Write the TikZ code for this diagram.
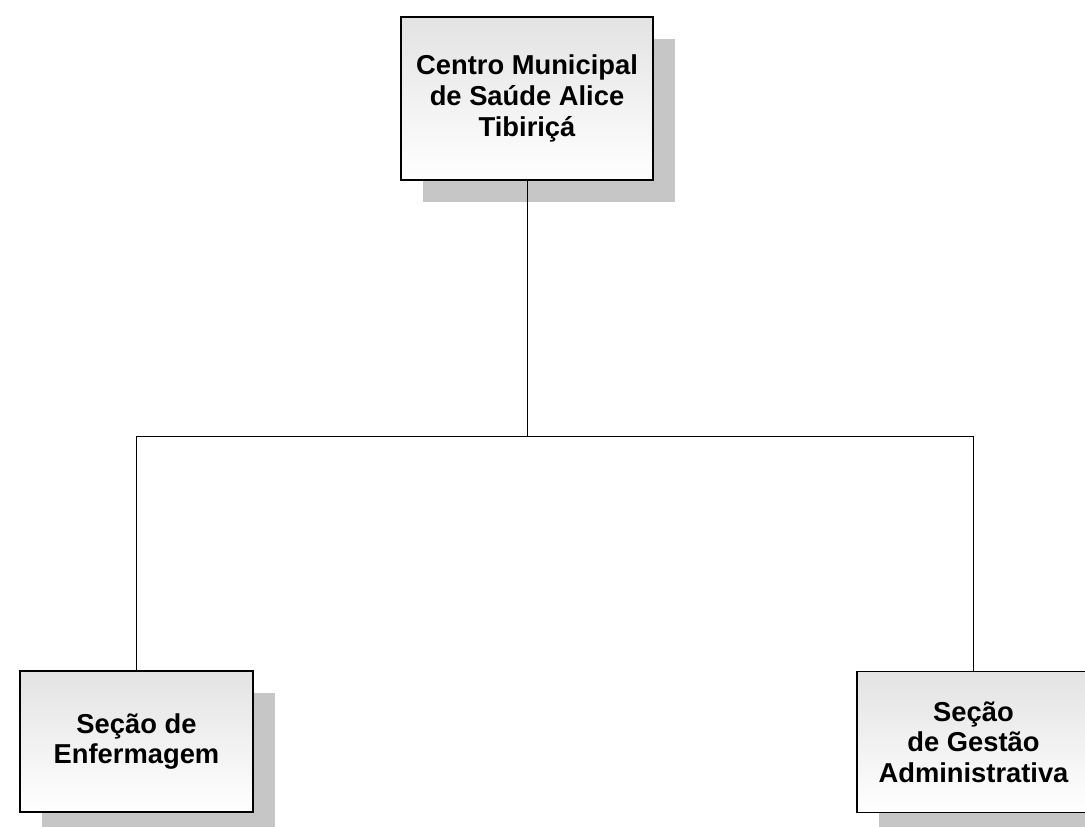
\documentclass[tikz,border=0pt]{standalone}
\usepackage{fontspec}
\setmainfont{Liberation Sans}
\usetikzlibrary{shadows}

\begin{document}
\begin{tikzpicture}[x=0.75pt, y=0.75pt,
  unit/.style={rectangle, draw, line width=1.3pt, top color=gray!22, bottom color=white,
    align=center, font=\bfseries\fontsize{20.5pt}{23pt}\selectfont,
    drop shadow={shadow xshift=16.5pt, shadow yshift=-16.5pt, fill=gray!45, opacity=1}},
  link/.style={draw, line width=0.75pt}]
  \useasboundingbox (0,0) rectangle (1085,826);
  \node (centro) [unit, minimum width=189pt, minimum height=122.25pt] at (527,727.5) {Centro Municipal\\de Saúde Alice\\Tibiriçá};
  \node (enferm) [unit, minimum width=174.75pt, minimum height=105.75pt] at (136.5,84.5) {Seção de\\Enfermagem};
  \node (gestao) [unit, minimum width=174.75pt, minimum height=105.75pt] at (973.5,84) {Seção\\de Gestão\\Administrativa};
  \coordinate (junc) at (527,390);

  \draw[link] (centro) -- (junc);
  \draw[link] (enferm) |- (junc);
  \draw[link] (junc) -| (gestao);
\end{tikzpicture}
\end{document}
